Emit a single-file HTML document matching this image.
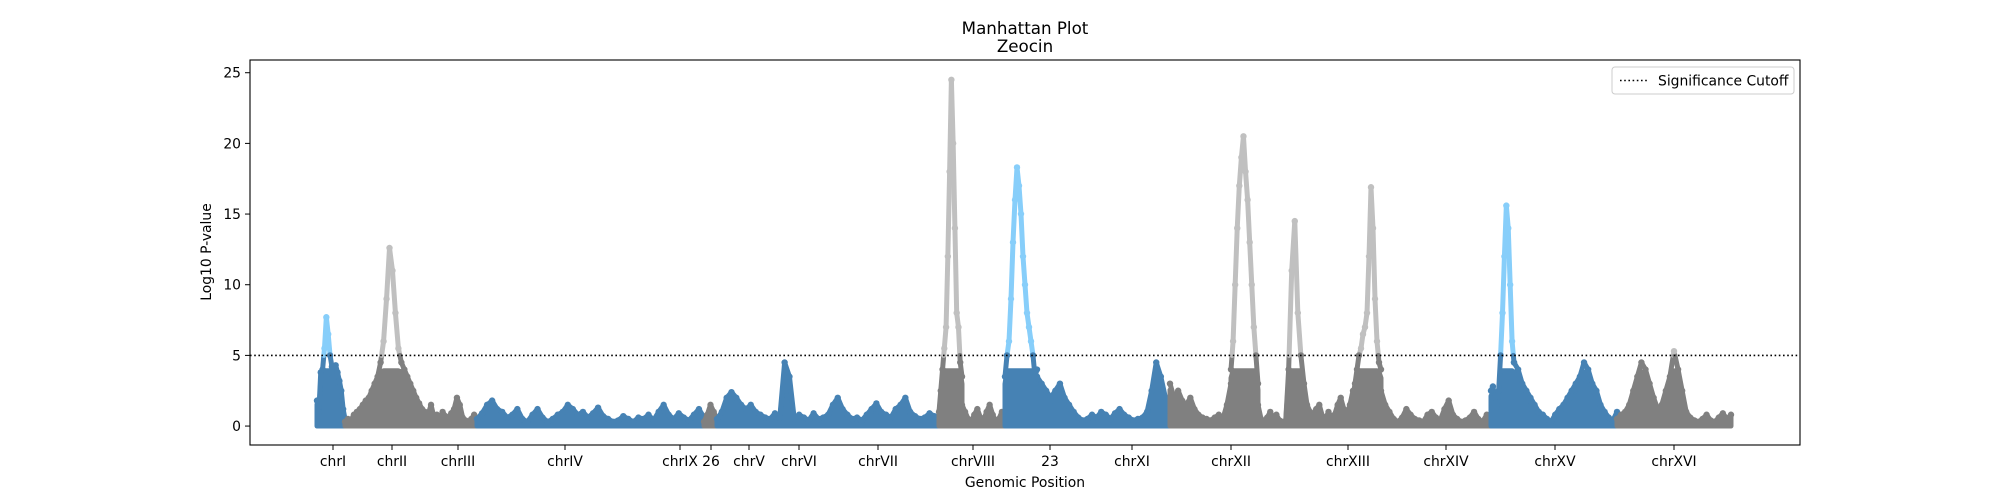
<!DOCTYPE html>
<html><head><meta charset="utf-8"><style>
html,body{margin:0;padding:0;background:#fff;}
svg{display:block;font-family:"DejaVu Sans","Liberation Sans",sans-serif;}
</style></head><body>
<svg id="chart" width="2000" height="500" viewBox="0 0 2000 500" xmlns="http://www.w3.org/2000/svg">
<text x="1025" y="34" font-size="16.7" text-anchor="middle">Manhattan Plot</text>
<text x="1025" y="52" font-size="16.7" text-anchor="middle">Zeocin</text>
<g id="marks"></g>
<g id="axes"></g>
<rect x="250" y="60" width="1550" height="385" fill="none" stroke="#000" stroke-width="1.1"/>
<text x="0" y="0" font-size="13.9" text-anchor="middle" transform="translate(211,252) rotate(-90)">Log10 P-value</text>
<text x="1025" y="487" font-size="13.9" text-anchor="middle">Genomic Position</text>
<g>
<rect x="1612" y="67" width="182" height="27" rx="3" fill="#fff" stroke="#ccc"/>
<line x1="1620" y1="80.5" x2="1648" y2="80.5" stroke="#000" stroke-width="1.6" stroke-dasharray="1.6,2.6"/>
<text x="1658" y="85.5" font-size="13.9">Significance Cutoff</text>
</g>
</svg>
<script>
const yDomain = [-1.34, 25.9];
const xDomain = [250, 1800];
const cutoff = 5;
const yTicks = [0, 5, 10, 15, 20, 25];
const xTickPos = [333, 392, 458, 565, 680, 711, 749, 799, 878, 973, 1050, 1132, 1231, 1348, 1446, 1555, 1674];
const xTickLabels = ["chrI","chrII","chrIII","chrIV","chrIX","26","chrV","chrVI","chrVII","chrVIII","23","chrXI","chrXII","chrXIII","chrXIV","chrXV","chrXVI"];
const segStart = [317,345,434,477,704,717,939,962,1005,1037,1170,1231,1258,1353,1381,1491,1514,1617];
const segEnd   = [345,434,477,704,717,944,962,1005,1037,1170,1231,1258,1353,1381,1491,1514,1617,1731];
const segPalette = ["b","g","g","b","g","b","g","g","b","b","g","g","g","g","g","b","b","g"];
const segValues = [
[1.8,1.0,3.8,4.0,5.5,7.7,6.5,5,4.2,3.5,4.3,3.8,3.2,2.5,1.2,0.5],
[0.3,0.5,0.4,0.8,1.0,1.2,1.5,1.8,2.0,2.5,3.0,3.5,4.5,6,9,12.6,11,8,5.5,4.5,4.0,3.5,3.0,2.5,2.0,1.6,1.2,1.0,0.8,1.5,0.6],
[0.5,0.8,0.6,1.0,0.7,0.5,0.9,1.2,2.0,1.5,0.6,0.4,0.3,0.5,0.8,0.4],
[0.5,0.9,1.5,1.8,1.2,1.0,0.6,0.8,1.2,0.5,0.3,0.8,1.2,0.6,0.3,0.5,0.8,1.0,1.5,1.2,0.8,1.0,0.6,0.9,1.3,0.7,0.5,0.3,0.4,0.7,0.5,0.3,0.6,0.5,0.8,0.4,1.0,1.5,0.8,0.5,0.9,0.6,0.4,0.8,1.2,0.6],
[0.3,0.8,1.5,1.0,0.4],
[0.5,1.0,2.0,2.4,2.0,1.5,1.2,1.5,1.0,0.8,0.6,0.5,0.9,0.6,4.5,3.5,0.5,0.8,0.6,0.4,0.9,0.5,0.6,0.8,1.5,2.0,1.2,0.8,0.5,0.6,0.4,0.8,1.2,1.6,1.0,0.8,0.6,1.2,1.5,2.0,1.0,0.7,0.5,0.6,0.9,0.7,0.5,0.6],
[1,2.5,4,5.5,7,12,18,24.5,20,14,8,7,4.5,3.5],
[1.5,1.0,0.5,0.3,0.8,1.2,0.6,0.4,1.0,1.5,0.8,0.3,0.5,1.0,0.4],
[3.5,5,6,9,13,16,18.3,17,15,12,10,8,7,6,5,3.5,4],
[3.5,3.0,2.5,2.0,2.5,3.0,2.0,1.5,1.0,0.6,0.4,0.5,0.8,0.6,1.0,0.8,0.5,0.9,1.2,0.8,0.6,0.4,0.5,0.6,1.0,2.5,4.5,3.5,2.0,1.0],
[3,2,2.5,1.8,1.5,2,1.2,0.8,0.6,0.5,0.4,0.6,0.8,0.5,1.5,3],
[4,6,10,14,17,19,20.5,18,16,13,10,7,5,3],
[1.5,0.5,0.3,0.6,1.0,0.5,0.8,0.4,0.3,0.2,4,11,14.5,8,5,3,1.5,1,0.8,1.2,1.5,0.7,0.5,1.0,0.6,0.8,1.5,2.0,1.2,0.8,1.5,2.5],
[2,3,4,5,5.5,6.5,7,8,12,16.9,14,9,6,4.5,4],
[2.5,1.5,1.0,0.5,0.3,0.6,1.2,0.8,0.5,0.4,0.3,0.8,1.0,0.6,0.4,1.2,1.8,0.8,0.5,0.3,0.4,0.6,1.0,0.5,0.3,0.8,0.5],
[2.5,2.8,2.0,1.5,2.5,5,8,12,15.6,14,10,6,4.5],
[4.5,4.0,3.0,2.5,2.0,1.5,1.0,0.8,0.5,0.3,0.8,1.2,1.5,2.0,2.5,3.0,3.5,4.5,4.0,3.0,2.5,1.5,1.0,0.6,0.4,1.0],
[0.5,0.8,1.0,1.5,2.5,3.5,4.5,4.0,3.0,2.0,1.2,1.5,2.5,3.5,5.3,4.0,2.5,1.0,0.6,0.4,0.3,0.5,0.8,0.4,0.3,0.6,0.9,0.5,0.8]
];
const colors = {b:{dark:"#4682b4",light:"#87cefa"}, g:{dark:"#808080",light:"#c0c0c0"}};

const NS = "http://www.w3.org/2000/svg";
const PL = 250, PR = 1800, PT = 60, PB = 445;
function xs(v){ return PL + (v - xDomain[0]) / (xDomain[1] - xDomain[0]) * (PR - PL); }
function ys(v){ return PB - (v - yDomain[0]) / (yDomain[1] - yDomain[0]) * (PB - PT); }
function mk(tag, attrs, parent){ const e = document.createElementNS(NS, tag); for (const k in attrs) e.setAttribute(k, attrs[k]); parent.appendChild(e); return e; }

const axes = document.getElementById('axes');
yTicks.forEach(t => {
  const g = mk('g', {}, axes);
  
  
  mk('line', {x1: PL - 5, x2: PL, y1: ys(t), y2: ys(t), stroke: '#000', 'stroke-width': 1}, g);
  const tx = mk('text', {x: PL - 9, y: ys(t) + 5, 'font-size': 13.9, 'text-anchor': 'end'}, g);
  tx.textContent = String(t);
});
xTickPos.forEach((p, i) => {
  const g = mk('g', {}, axes);
  
  
  mk('line', {x1: xs(p), x2: xs(p), y1: PB, y2: PB + 5, stroke: '#000', 'stroke-width': 1}, g);
  const tx = mk('text', {x: xs(p), y: PB + 21, 'font-size': 13.9, 'text-anchor': 'middle'}, g);
  tx.textContent = xTickLabels[i];
});

const marks = document.getElementById('marks');
segValues.forEach((vals, si) => {
  const pal = colors[segPalette[si]];
  const g = mk('g', {}, marks);
  
  
  const n = vals.length;
  const px = vals.map((v, i) => segStart[si] + (segEnd[si] - segStart[si]) * i / (n - 1));
  let d = 'M' + xs(px[0]) + ',' + ys(0);
  vals.forEach((v, i) => { d += 'L' + xs(px[i]) + ',' + ys(Math.min(v, 4.6) * 0.85); });
  d += 'L' + xs(px[n - 1]) + ',' + ys(0) + 'Z';
  const area = mk('path', {d: d, fill: pal.dark, stroke: pal.dark, 'stroke-width': 5, 'stroke-linejoin': 'round'}, g);
  
  
  for (let i = 0; i < n - 1; i++) {
    const a = vals[i], b = vals[i + 1];
    const x1 = px[i], x2 = px[i + 1];
    const pieces = [];
    if ((a - cutoff) * (b - cutoff) < 0) {
      const t = (cutoff - a) / (b - a);
      const xm = x1 + t * (x2 - x1);
      pieces.push([x1, a, xm, cutoff, a > cutoff]);
      pieces.push([xm, cutoff, x2, b, b > cutoff]);
    } else {
      pieces.push([x1, a, x2, b, a > cutoff || b > cutoff]);
    }
    pieces.forEach(pc => {
      const ln = mk('line', {x1: xs(pc[0]), y1: ys(pc[1]), x2: xs(pc[2]), y2: ys(pc[3]), stroke: pc[4] ? pal.light : pal.dark, 'stroke-width': 5, 'stroke-linecap': 'round'}, g);
      
      
    });
  }
  vals.forEach((v, i) => {
    const c = mk('circle', {cx: xs(px[i]), cy: ys(v), r: 3.2, fill: v > cutoff ? pal.light : pal.dark}, g);
    
    
  });
});
const cut = mk('line', {x1: PL, x2: PR, y1: ys(cutoff), y2: ys(cutoff), stroke: '#000', 'stroke-width': 1.6, 'stroke-dasharray': '1.6,2.6'}, marks);


</script>
</body></html>
